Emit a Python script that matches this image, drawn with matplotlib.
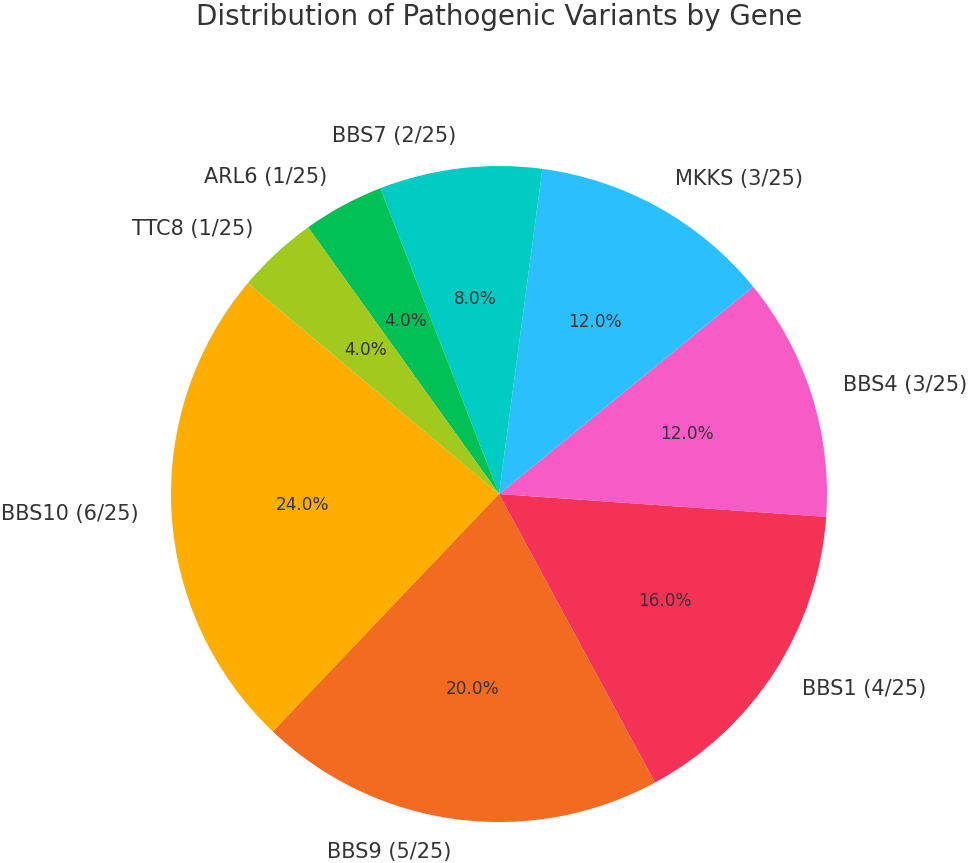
import matplotlib.pyplot as plt

genes = ['BBS10', 'BBS9', 'BBS1', 'BBS4', 'MKKS', 'BBS7', 'ARL6', 'TTC8']
counts = [6, 5, 4, 3, 3, 2, 1, 1]
total = 25
colors = ['#FFAE00', '#F26B21', '#F43256', '#F75BC5', '#2BBFFD', '#00CCC3', '#00C155', '#A2CA1E']

labels = [f'{g} ({c}/{total})' for g, c in zip(genes, counts)]

fig = plt.figure(figsize=(9.68, 8.63), dpi=100)
# square axes so the pie sits where it does in the reference
ax = fig.add_axes([171 / 968, 41 / 863, 656 / 968, 656 / 863])

wedges, texts, autotexts = ax.pie(counts, labels=labels, colors=colors, autopct='%1.1f%%',
                                  startangle=140, textprops={'color': '#333333'})
for t in texts:
    t.set_fontsize(15)
for t in autotexts:
    t.set_fontsize(12.2)
ax.set_xlim(-1, 1)
ax.set_ylim(-1, 1)
ax.set_aspect('equal')

fig.text(499 / 968, 1 - 17 / 863, 'Distribution of Pathogenic Variants by Gene',
         ha='center', va='center', fontsize=20, color='#333333')

fig.savefig('out.png', dpi=100)
